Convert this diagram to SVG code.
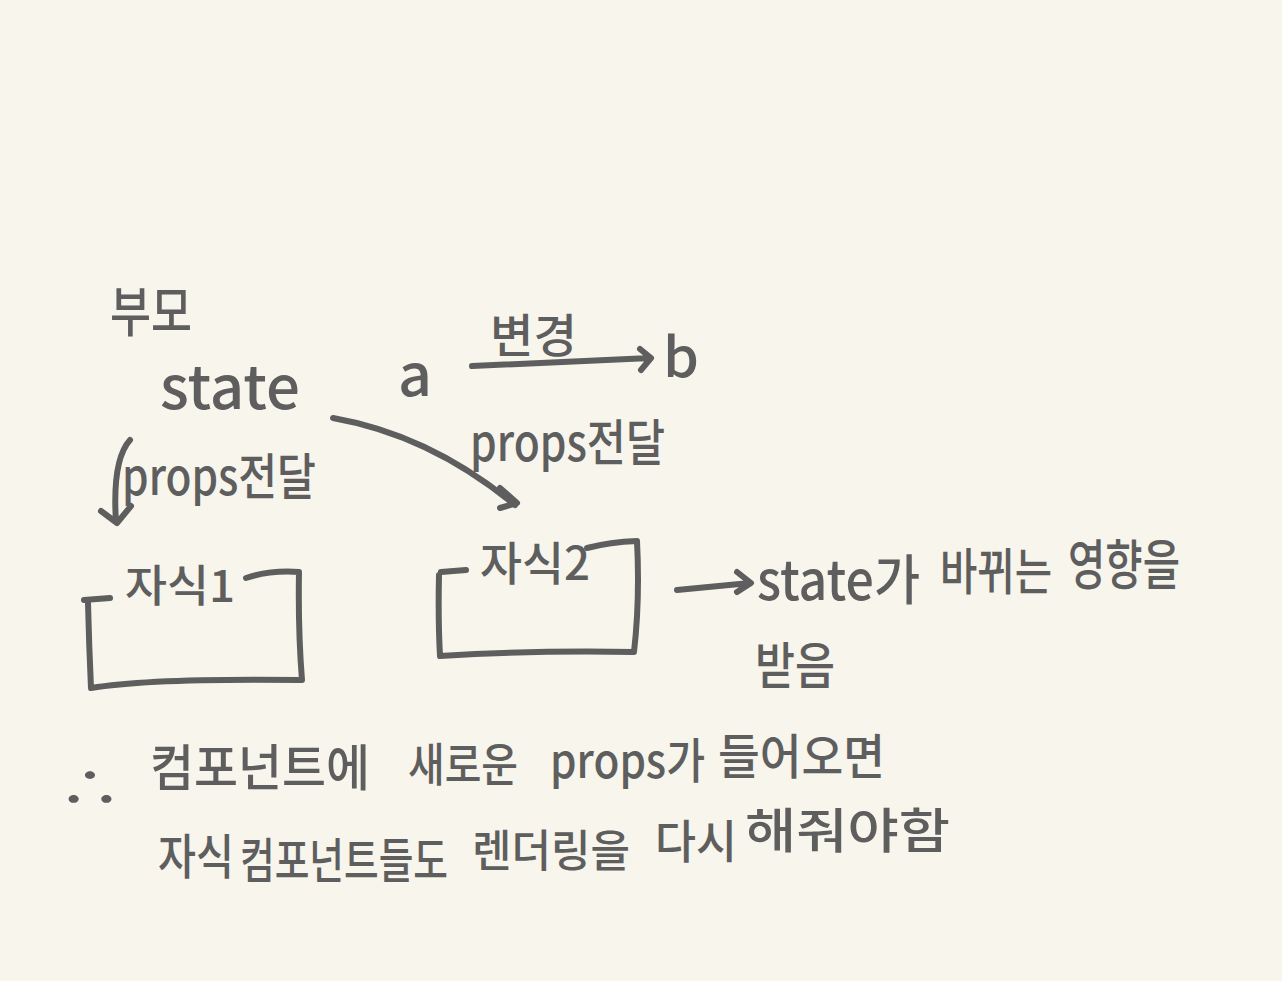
<svg xmlns="http://www.w3.org/2000/svg" width="1282" height="981" viewBox="0 0 1282 981">
<defs>
<style>
.t{font-family:"Noto Sans CJK KR","Noto Sans",sans-serif;fill:#5e5e5e;font-weight:500}
.s{fill:none;stroke:#5e5e5e;stroke-width:6;stroke-linecap:round;stroke-linejoin:round}
</style>
</defs>
<rect width="1282" height="981" fill="#f7f5ec"/>
<g id="parent">
<text class="t" x="110" y="332" font-size="54" textLength="82" lengthAdjust="spacingAndGlyphs">부모</text>
<text class="t" x="160" y="409" font-size="60" textLength="140" lengthAdjust="spacingAndGlyphs">state</text>
</g>
<g id="state-change">
<text class="t" x="398" y="396" font-size="58" textLength="34" lengthAdjust="spacingAndGlyphs">a</text>
<text class="t" x="490" y="352" font-size="46" textLength="87" lengthAdjust="spacingAndGlyphs">변경</text>
<text class="t" x="663" y="377" font-size="54" textLength="36" lengthAdjust="spacingAndGlyphs">b</text>
</g>
<g id="child1">
<path class="s" d="M84 600 L110 598 M88 603 Q89 645 91 688 Q150 678 302 680 Q298 630 299 572 Q270 570 246 578"/>
<text class="t" x="125" y="602" font-size="44" textLength="110" lengthAdjust="spacingAndGlyphs">자식1</text>
</g>
<g id="child2">
<path class="s" d="M441 572 L466 570 M439 575 Q438 620 440 656 Q540 650 634 652 Q640 600 637 541 Q610 542 587 548"/>
<text class="t" x="480" y="580" font-size="46" textLength="110" lengthAdjust="spacingAndGlyphs">자식2</text>
</g>
<g id="labels">
<text class="t" x="122" y="495" font-size="50" textLength="194" lengthAdjust="spacingAndGlyphs">props전달</text>
<text class="t" x="470" y="461" font-size="50" textLength="195" lengthAdjust="spacingAndGlyphs">props전달</text>
<text class="t" x="757" y="600" font-size="54" textLength="163" lengthAdjust="spacingAndGlyphs">state가</text>
<text class="t" x="940" y="590" font-size="50" textLength="112" lengthAdjust="spacingAndGlyphs">바뀌는</text>
<text class="t" x="1068" y="585" font-size="54" textLength="112" lengthAdjust="spacingAndGlyphs">영향을</text>
<text class="t" x="755" y="684" font-size="50" textLength="80" lengthAdjust="spacingAndGlyphs">받음</text>
</g>
<g id="conclusion">
<text class="t" x="58" y="806" font-size="50" textLength="64" lengthAdjust="spacingAndGlyphs">∴</text>
<text class="t" x="150" y="786" font-size="50" textLength="220" lengthAdjust="spacingAndGlyphs">컴포넌트에</text>
<text class="t" x="408" y="781" font-size="46" textLength="110" lengthAdjust="spacingAndGlyphs">새로운</text>
<text class="t" x="550" y="778" font-size="48" textLength="155" lengthAdjust="spacingAndGlyphs">props가</text>
<text class="t" x="718" y="774" font-size="48" textLength="167" lengthAdjust="spacingAndGlyphs">들어오면</text>
<text class="t" x="158" y="874" font-size="48" textLength="76" lengthAdjust="spacingAndGlyphs">자식</text>
<text class="t" x="240" y="878" font-size="48" textLength="208" lengthAdjust="spacingAndGlyphs">컴포넌트들도</text>
<text class="t" x="472" y="867" font-size="44" textLength="158" lengthAdjust="spacingAndGlyphs">렌더링을</text>
<text class="t" x="655" y="858" font-size="46" textLength="82" lengthAdjust="spacingAndGlyphs">다시</text>
<text class="t" x="745" y="848" font-size="48" textLength="205" lengthAdjust="spacingAndGlyphs">해줘야함</text>
</g>
<g id="connectors">
<path class="s" d="M472 366 L650 358 M640 349 L651 358 L641 370"/>
<path class="s" d="M333 418 Q430 435 515 505 M500 488 L517 503 L500 508"/>
<path class="s" d="M130 440 Q112 460 116 522 M101 511 L117 523 L131 506"/>
<path class="s" d="M677 590 L750 583 M737 572 L751 583 L737 592"/>
</g>
</svg>
